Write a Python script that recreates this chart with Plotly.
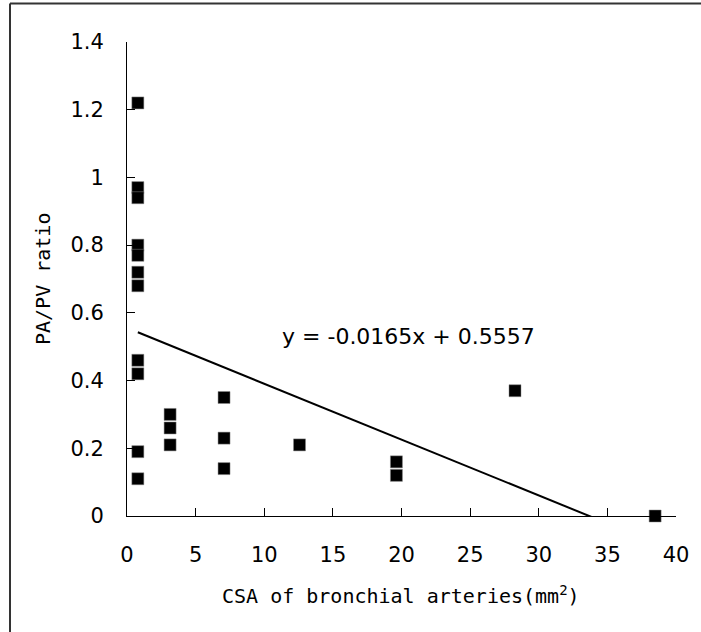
import plotly.graph_objects as go

# Data
x_vals = [0.79]*11 + [3.14]*3 + [7.07]*3 + [12.57] + [19.63]*2 + [28.27] + [38.48]
y_vals = [1.22, 0.97, 0.94, 0.80, 0.77, 0.72, 0.68, 0.46, 0.42, 0.19, 0.11,
          0.30, 0.26, 0.21,
          0.35, 0.23, 0.14,
          0.21,
          0.16, 0.12,
          0.37,
          0.00]
slope = -0.0165
intercept = 0.5557
x_ticks = [0, 5, 10, 15, 20, 25, 30, 35, 40]
y_ticks = [0, 0.2, 0.4, 0.6, 0.8, 1.0, 1.2, 1.4]
y_tick_text = ["0", "0.2", "0.4", "0.6", "0.8", "1", "1.2", "1.4"]

W, H = 701, 632
ml, mr, mt, mb = 127, 25, 42, 116
pw = W - ml - mr
ph = H - mt - mb

fig = go.Figure()

xmin, xmax = min(x_vals), max(x_vals)
fig.add_trace(go.Scatter(
    x=[xmin, xmax], y=[slope*xmin + intercept, slope*xmax + intercept],
    mode="lines", line=dict(color="black", width=2), hoverinfo="skip",
    showlegend=False))

fig.add_trace(go.Scatter(
    x=x_vals, y=y_vals, mode="markers",
    marker=dict(symbol="square", size=12, color="black",
                line=dict(color="#888888", width=0.5)),
    cliponaxis=False, showlegend=False))

tickfont = dict(family="DejaVu Sans", size=21, color="black")
fig.update_xaxes(range=[0, 40], tickvals=x_ticks, ticks="inside", ticklen=8,
                 tickcolor="black", tickwidth=1, showline=True, linecolor="black",
                 linewidth=1, showgrid=False, zeroline=False, tickfont=tickfont,
                 ticklabelstandoff=20)
fig.update_yaxes(range=[0, 1.4], tickvals=y_ticks, ticktext=y_tick_text,
                 ticks="inside", ticklen=8, tickcolor="black", tickwidth=1,
                 showline=True, linecolor="black", linewidth=1, showgrid=False,
                 zeroline=False, tickfont=tickfont, ticklabelstandoff=18)

title_font = dict(family="DejaVu Sans Mono", size=20, color="black")
fig.add_annotation(text="CSA of bronchial arteries(mm<sup>2</sup>)", xref="paper", yref="paper",
                   x=(401 - ml)/pw, y=(H - mb - 595)/ph, xanchor="center", yanchor="middle",
                   showarrow=False, font=title_font)
fig.add_annotation(text="PA/PV ratio", xref="paper", yref="paper",
                   x=(43 - ml)/pw, y=0.5, xanchor="center", yanchor="middle",
                   textangle=-90, showarrow=False, font=title_font)
fig.add_annotation(text="y = -0.0165x + 0.5557", xref="x", yref="y",
                   x=20.5, y=0.53, xanchor="center", yanchor="middle",
                   showarrow=False, font=dict(family="DejaVu Sans", size=22, color="black"))

# outer chart frame (left and top edges visible)
fx = (10 - ml)/pw
fy = (H - mb - 3.5)/ph
fig.add_shape(type="line", xref="paper", yref="paper", x0=fx, x1=fx, y0=-1, y1=fy,
              line=dict(color="#333333", width=2))
fig.add_shape(type="line", xref="paper", yref="paper", x0=fx, x1=2, y0=fy, y1=fy,
              line=dict(color="#333333", width=2))

fig.update_layout(width=W, height=H, margin=dict(l=ml, r=mr, t=mt, b=mb),
                  plot_bgcolor="white", paper_bgcolor="white", showlegend=False)

fig.write_html("out.html")
